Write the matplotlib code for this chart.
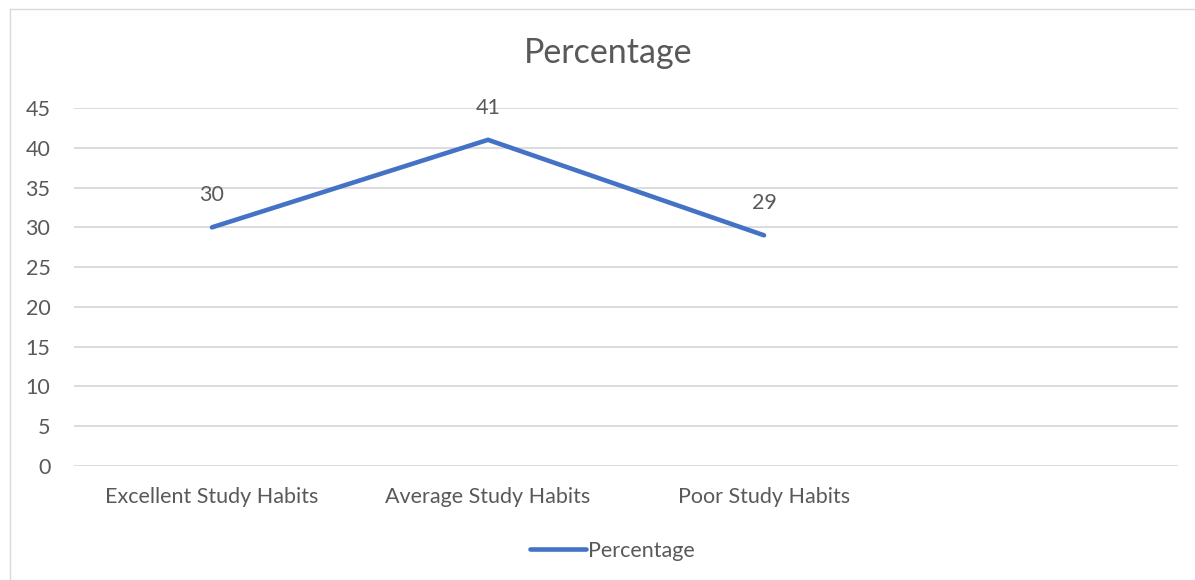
import matplotlib.pyplot as plt
from matplotlib.lines import Line2D

categories = ["Excellent Study Habits", "Average Study Habits", "Poor Study Habits", ""]
percentage = [30, 41, 29]
yticks = [0, 5, 10, 15, 20, 25, 30, 35, 40, 45]

plt.rcParams["font.family"] = ["Lato", "DejaVu Sans"]
text_color = "#595959"
line_color = "#4472C4"

fig = plt.figure(figsize=(11.95, 5.8), dpi=100)
ax = fig.add_axes([74 / 1195, 114 / 580, (1178 - 74) / 1195, (466 - 108) / 580])

x = list(range(len(categories)))
ax.plot(x[:len(percentage)], percentage, color=line_color, lw=3.3,
        solid_capstyle="round", solid_joinstyle="miter")
for xi, v in zip(x, percentage):
    ax.annotate(str(v), (xi, v), xytext=(0, 23), textcoords="offset points",
                ha="center", va="center", fontsize=15.5, color=text_color)

ax.set_xlim(-0.5, len(categories) - 0.5)
ax.set_ylim(0, 45)
ax.set_yticks(yticks)
ax.set_xticks(x)
ax.set_xticklabels(categories)
ax.tick_params(axis="both", length=0, labelsize=15.5, colors=text_color)
ax.tick_params(axis="x", pad=15)
ax.tick_params(axis="y", pad=17)
ax.grid(axis="y", color="#d9d9d9", lw=1.3)
ax.set_axisbelow(True)
for s in ax.spines.values():
    s.set_visible(False)

fig.text(608 / 1195, 1 - 53 / 580, "Percentage", ha="center", va="center",
         fontsize=24.5, color=text_color)

# chart border (only left and top visible)
fig.add_artist(Line2D([10 / 1195, 10 / 1195], [0, 1 - 9 / 580],
                      transform=fig.transFigure, color="#d9d9d9", lw=1))
fig.add_artist(Line2D([10 / 1195, 1], [1 - 9 / 580, 1 - 9 / 580],
                      transform=fig.transFigure, color="#d9d9d9", lw=1))

handle = Line2D([], [], color=line_color, lw=3.3, solid_capstyle="round")
fig.legend([handle], ["Percentage"], loc="center", bbox_to_anchor=(612 / 1195, 1 - 551 / 580),
           frameon=False, fontsize=15.5, labelcolor=text_color, handlelength=2.6,
           handletextpad=0.1)

fig.savefig("out.png", dpi=100)
